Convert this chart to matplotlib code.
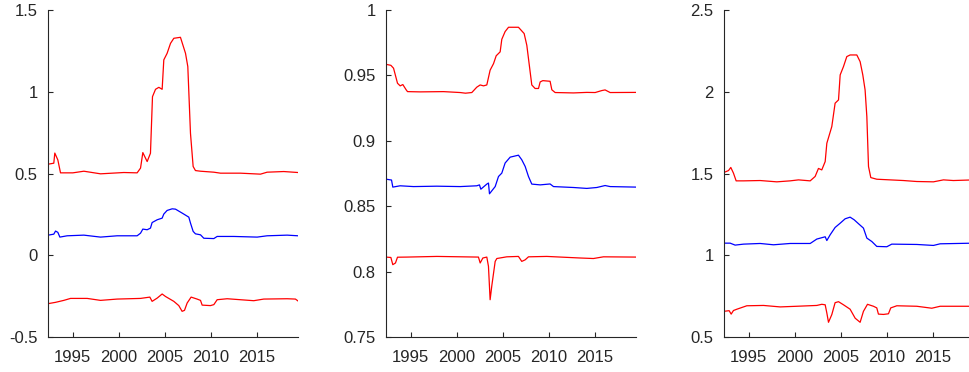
import numpy as np
import matplotlib
matplotlib.use("Agg")
import matplotlib.pyplot as plt
from matplotlib.ticker import FuncFormatter

plt.rcParams["font.family"] = ["Liberation Sans", "DejaVu Sans"]

# =========================================================
# data (year, value)
# =========================================================
# panel 1
p1_top_x = [1992.32, 1992.93, 1993.04, 1993.37, 1993.66, 1995.0, 1996.20, 1998.01, 2000.54, 2001.99,
            2002.36, 2002.61, 2003.08, 2003.44, 2003.66, 2003.99, 2004.35, 2004.71, 2004.89, 2005.25,
            2005.62, 2005.98, 2006.70, 2007.25, 2007.50, 2007.79, 2008.08, 2008.33, 2008.88, 2010.33,
            2011.05, 2013.22, 2015.40, 2016.12, 2017.93, 2019.49]
p1_top_y = [0.557, 0.563, 0.625, 0.583, 0.504, 0.504, 0.514, 0.498, 0.506, 0.504,
            0.533, 0.628, 0.573, 0.624, 0.970, 1.015, 1.027, 1.015, 1.195, 1.235,
            1.296, 1.327, 1.333, 1.235, 1.154, 0.746, 0.543, 0.518, 0.514, 0.508,
            0.502, 0.502, 0.496, 0.508, 0.512, 0.506]

p1_mid_x = [1992.32, 1992.93, 1993.12, 1993.37, 1993.59, 1994.38, 1996.20, 1998.01, 1999.82, 2001.99,
            2002.36, 2002.61, 2003.08, 2003.44, 2003.62, 2004.17, 2004.71, 2004.89, 2005.25, 2005.80,
            2006.16, 2006.88, 2007.61, 2007.79, 2008.08, 2008.33, 2008.88, 2009.24, 2010.33, 2010.69,
            2012.50, 2015.04, 2016.12, 2018.30, 2019.49]
p1_mid_y = [0.123, 0.129, 0.148, 0.140, 0.111, 0.119, 0.123, 0.111, 0.119, 0.119,
            0.135, 0.160, 0.156, 0.166, 0.200, 0.217, 0.227, 0.252, 0.274, 0.284,
            0.282, 0.258, 0.233, 0.197, 0.146, 0.131, 0.125, 0.104, 0.102, 0.115,
            0.115, 0.111, 0.119, 0.123, 0.119]

p1_low_x = [1992.32, 1993.12, 1994.02, 1994.75, 1996.56, 1998.01, 1999.82, 2002.36, 2003.37, 2003.62,
            2004.17, 2004.71, 2005.07, 2005.98, 2006.52, 2006.88, 2007.14, 2007.43, 2007.86, 2008.51,
            2008.88, 2009.06, 2009.96, 2010.33, 2010.69, 2011.78, 2013.22, 2014.67, 2015.76, 2018.30,
            2019.20, 2019.49]
p1_low_y = [-0.296, -0.288, -0.276, -0.264, -0.264, -0.276, -0.268, -0.264, -0.256, -0.282,
            -0.262, -0.237, -0.252, -0.282, -0.308, -0.343, -0.337, -0.292, -0.256, -0.268,
            -0.276, -0.305, -0.308, -0.302, -0.272, -0.266, -0.272, -0.278, -0.268, -0.266,
            -0.268, -0.280]

# panel 2
p2_top_x = [1992.28, 1992.83, 1993.12, 1993.55, 1993.84, 1994.13, 1994.49, 1994.64, 1996.01, 1998.55,
            2000.36, 2000.94, 2001.63, 2002.17, 2002.54, 2002.90, 2003.26, 2003.62, 2003.99, 2004.28,
            2004.71, 2004.89, 2005.25, 2005.62, 2006.70, 2007.32, 2007.61, 2007.90, 2008.15, 2008.51,
            2008.88, 2009.06, 2009.35, 2010.14, 2010.33, 2010.69, 2012.68, 2014.13, 2015.04, 2015.76,
            2016.12, 2016.67, 2019.46]
p2_top_y = [0.9585, 0.9577, 0.9555, 0.9440, 0.9420, 0.9430, 0.9390, 0.9376, 0.9374, 0.9376,
            0.9369, 0.9364, 0.9369, 0.9410, 0.9427, 0.9420, 0.9427, 0.9540, 0.9590, 0.9650,
            0.9680, 0.9776, 0.9835, 0.9868, 0.9868, 0.9820, 0.9730, 0.9567, 0.9427, 0.9400,
            0.9400, 0.9450, 0.9460, 0.9455, 0.9390, 0.9369, 0.9366, 0.9370, 0.9369, 0.9384,
            0.9389, 0.9369, 0.9370]

p2_mid_x = [1992.28, 1992.90, 1993.04, 1993.84, 1995.29, 1997.83, 2000.36, 2002.17, 2002.46, 2002.61,
            2003.26, 2003.44, 2003.55, 2004.17, 2004.53, 2004.89, 2005.25, 2005.80, 2006.70, 2007.06,
            2007.43, 2007.79, 2008.15, 2009.06, 2010.14, 2010.51, 2012.68, 2014.13, 2015.22, 2016.12,
            2016.67, 2019.46]
p2_mid_y = [0.8707, 0.8700, 0.8646, 0.8656, 0.8650, 0.8653, 0.8650, 0.8656, 0.8663, 0.8630,
            0.8669, 0.8677, 0.8595, 0.8650, 0.8727, 0.8753, 0.8830, 0.8875, 0.8890, 0.8855,
            0.8804, 0.8727, 0.8669, 0.8663, 0.8670, 0.8650, 0.8643, 0.8636, 0.8643, 0.8658,
            0.8650, 0.8646]

p2_low_x = [1992.28, 1992.83, 1993.04, 1993.33, 1993.55, 1994.57, 1997.83, 2002.35, 2002.54, 2002.83,
            2003.26, 2003.44, 2003.62, 2003.80, 2004.17, 2004.35, 2005.43, 2006.70, 2007.06, 2007.43,
            2007.79, 2009.78, 2013.40, 2014.85, 2015.94, 2019.46]
p2_low_y = [0.8111, 0.8108, 0.8053, 0.8066, 0.8110, 0.8111, 0.8116, 0.8111, 0.8066, 0.8104,
            0.8111, 0.8040, 0.7785, 0.7890, 0.8078, 0.8100, 0.8113, 0.8116, 0.8078, 0.8090,
            0.8113, 0.8116, 0.8104, 0.8100, 0.8113, 0.8111]

# panel 3
p3_top_x = [1992.28, 1992.79, 1993.04, 1993.33, 1993.62, 1994.42, 1996.23, 1998.04, 1999.49, 2000.40,
            2001.67, 2002.21, 2002.57, 2002.93, 2003.30, 2003.48, 2004.02, 2004.38, 2004.75, 2004.93,
            2005.29, 2005.65, 2006.01, 2006.74, 2007.10, 2007.39, 2007.64, 2007.83, 2008.01, 2008.26,
            2008.91, 2010.36, 2011.81, 2013.26, 2015.07, 2016.16, 2017.24, 2019.46]
p3_top_y = [1.506, 1.518, 1.537, 1.502, 1.455, 1.455, 1.457, 1.449, 1.455, 1.461,
            1.455, 1.482, 1.531, 1.522, 1.573, 1.685, 1.787, 1.930, 1.950, 2.103,
            2.154, 2.215, 2.225, 2.225, 2.184, 2.103, 2.011, 1.848, 1.543, 1.475,
            1.465, 1.461, 1.457, 1.451, 1.449, 1.461, 1.457, 1.461]

p3_mid_x = [1992.28, 1992.97, 1993.51, 1994.42, 1996.23, 1997.68, 1999.49, 2001.67, 2002.39, 2003.30,
            2003.48, 2003.84, 2004.38, 2004.93, 2005.47, 2006.01, 2006.45, 2006.92, 2007.46, 2007.83,
            2008.37, 2008.91, 2010.00, 2010.54, 2013.26, 2015.07, 2015.80, 2019.46]
p3_mid_y = [1.074, 1.074, 1.062, 1.068, 1.072, 1.064, 1.072, 1.072, 1.099, 1.113,
            1.090, 1.125, 1.170, 1.196, 1.223, 1.233, 1.217, 1.193, 1.166, 1.105,
            1.084, 1.054, 1.052, 1.068, 1.066, 1.060, 1.070, 1.074]

p3_low_x = [1992.28, 1992.86, 1993.08, 1993.33, 1993.70, 1994.78, 1996.59, 1998.41, 2000.22, 2002.39,
            2002.93, 2003.30, 2003.48, 2003.66, 2004.02, 2004.38, 2004.75, 2005.29, 2006.01, 2006.56,
            2007.10, 2007.46, 2007.90, 2008.55, 2008.91, 2009.09, 2009.64, 2010.18, 2010.43, 2011.09,
            2013.26, 2014.89, 2015.80, 2019.46]
p3_low_y = [0.657, 0.661, 0.640, 0.662, 0.670, 0.691, 0.693, 0.684, 0.688, 0.693,
            0.700, 0.697, 0.647, 0.590, 0.637, 0.710, 0.716, 0.697, 0.670, 0.615,
            0.590, 0.657, 0.700, 0.688, 0.678, 0.640, 0.638, 0.642, 0.678, 0.691,
            0.688, 0.676, 0.688, 0.688]

x_ticks = [1995, 2000, 2005, 2010, 2015]
panels = [
    dict(series=[(p1_top_x, p1_top_y, "r"), (p1_mid_x, p1_mid_y, "b"), (p1_low_x, p1_low_y, "r")],
         ylim=(-0.5, 1.5), yticks=[-0.5, 0, 0.5, 1, 1.5], left=48),
    dict(series=[(p2_top_x, p2_top_y, "r"), (p2_mid_x, p2_mid_y, "b"), (p2_low_x, p2_low_y, "r")],
         ylim=(0.75, 1.0), yticks=[0.75, 0.8, 0.85, 0.9, 0.95, 1.0], left=386),
    dict(series=[(p3_top_x, p3_top_y, "r"), (p3_mid_x, p3_mid_y, "b"), (p3_low_x, p3_low_y, "r")],
         ylim=(0.5, 2.5), yticks=[0.5, 1, 1.5, 2, 2.5], left=724),
]

# =========================================================
# figure
# =========================================================
W, H = 969, 372
fig = plt.figure(figsize=(W / 100, H / 100), dpi=100)
axis_col = "#262626"

for p in panels:
    ax = fig.add_axes([p["left"] / W, 35 / H, 250 / W, 327 / H])
    for xs, ys, c in p["series"]:
        ax.plot(xs, ys, color=c, linewidth=0.9)
    ax.set_xlim(1992.3, 2019.48)
    ax.set_ylim(*p["ylim"])
    ax.set_xticks(x_ticks)
    ax.set_yticks(p["yticks"])
    ax.yaxis.set_major_formatter(FuncFormatter(lambda v, pos: f"{v:g}"))
    for s in ["top", "right"]:
        ax.spines[s].set_visible(False)
    for s in ["left", "bottom"]:
        ax.spines[s].set_color(axis_col)
        ax.spines[s].set_linewidth(0.8)
    ax.tick_params(direction="in", length=3.5, width=0.8, color=axis_col,
                   labelcolor=axis_col, labelsize=12)
    ax.tick_params(axis="y", pad=7.5)
    ax.tick_params(axis="x", pad=9)

fig.savefig("out.png", dpi=100)
